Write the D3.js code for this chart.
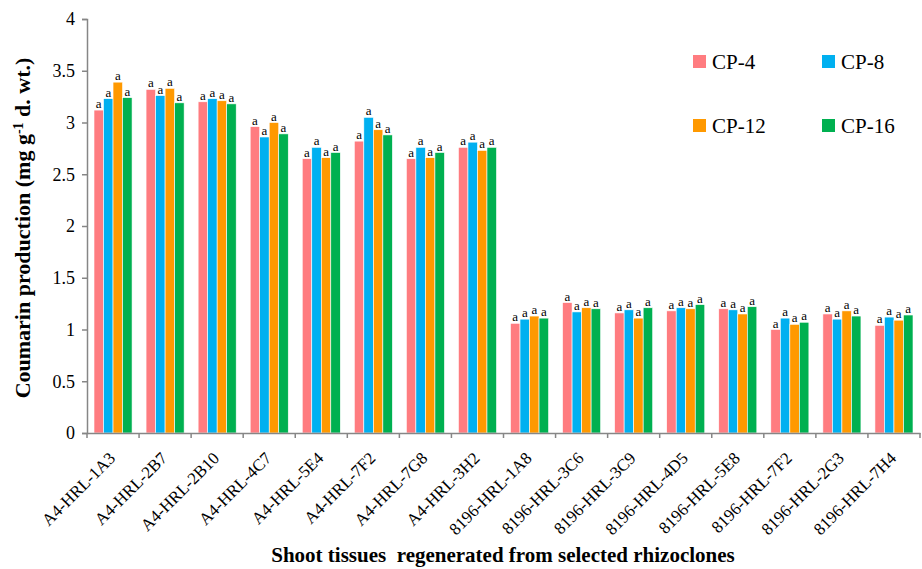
<!DOCTYPE html>
<html>
<head>
<meta charset="utf-8">
<script src="https://cdn.jsdelivr.net/npm/d3@7"></script>
<style>
  body { margin: 0; background: #fff; }
  svg text { font-family: "Liberation Serif", "DejaVu Serif", "Times New Roman", serif; fill: #000; }
</style>
</head>
<body>
<div id="chart"></div>
<script>
// Data
const clones = ["A4-HRL-1A3", "A4-HRL-2B7", "A4-HRL-2B10", "A4-HRL-4C7", "A4-HRL-5E4", "A4-HRL-7F2",
    "A4-HRL-7G8", "A4-HRL-3H2", "8196-HRL-1A8", "8196-HRL-3C6", "8196-HRL-3C9", "8196-HRL-4D5",
    "8196-HRL-5E8", "8196-HRL-7F2", "8196-HRL-2G3", "8196-HRL-7H4"];
const seriesNames = ["CP-4", "CP-8", "CP-12", "CP-16"];
const cp4  = [3.12, 3.32, 3.20, 2.96, 2.65, 2.82, 2.65, 2.76, 1.06, 1.26, 1.16, 1.18, 1.20, 1.00, 1.15, 1.04];
const cp8  = [3.23, 3.26, 3.23, 2.86, 2.76, 3.05, 2.76, 2.81, 1.10, 1.17, 1.19, 1.21, 1.19, 1.11, 1.10, 1.12];
const cp12 = [3.39, 3.33, 3.21, 3.00, 2.66, 2.93, 2.66, 2.73, 1.13, 1.21, 1.11, 1.20, 1.15, 1.05, 1.18, 1.09];
const cp16 = [3.24, 3.19, 3.18, 2.89, 2.71, 2.88, 2.71, 2.76, 1.11, 1.20, 1.21, 1.24, 1.22, 1.07, 1.13, 1.14];
const letters = "a";
const yTicks = [0, 0.5, 1, 1.5, 2, 2.5, 3, 3.5, 4];
const colors = ["#FF7C80", "#00B0F0", "#FF9900", "#00B050"];

const allSeries = [cp4, cp8, cp12, cp16];
const data = clones.map((c, i) => ({
    clone: c,
    values: seriesNames.map((s, j) => ({ key: s, value: allSeries[j][i] }))
}));

const W = 922, H = 569;
const mLeft = 87, mRight = 920, mTop = 19, mBottom = 433;
const serif = '"Liberation Serif", "DejaVu Serif", serif';

const svg = d3.select("#chart").append("svg")
    .attr("width", W).attr("height", H)
    .attr("font-family", serif);

const x0 = d3.scaleBand().domain(clones).range([mLeft, mRight]).padding(0);
const x1 = d3.scaleBand().domain(seriesNames).range([7, x0.bandwidth() - 7]).padding(0);
const y = d3.scaleLinear().domain([0, 4]).range([mBottom, mTop]);
const color = d3.scaleOrdinal().domain(seriesNames).range(colors);

// Bars
const groups = svg.append("g").selectAll("g")
    .data(data)
    .join("g")
    .attr("transform", d => `translate(${x0(d.clone)},0)`);

groups.selectAll("rect")
    .data(d => d.values)
    .join("rect")
    .attr("x", d => x1(d.key))
    .attr("y", d => y(d.value))
    .attr("width", x1.bandwidth())
    .attr("height", d => y(0) - y(d.value))
    .attr("fill", d => color(d.key))
    .attr("stroke", "#fff")
    .attr("stroke-width", 0.6);

// significance letters
groups.selectAll("text.sig")
    .data(d => d.values)
    .join("text")
    .attr("class", "sig")
    .attr("x", d => x1(d.key) + x1.bandwidth() / 2)
    .attr("y", d => y(d.value) - 2)
    .attr("text-anchor", "middle")
    .attr("font-size", "13px")
    .text(letters);

// Y axis
const yAxis = svg.append("g")
    .attr("transform", `translate(${mLeft},0)`)
    .call(d3.axisLeft(y).tickValues(yTicks).tickSize(5).tickPadding(7).tickFormat(d3.format("")));
yAxis.attr("font-family", serif);
yAxis.select(".domain").attr("stroke", "#868686").attr("stroke-width", 1.5);
yAxis.selectAll(".tick line").attr("stroke", "#868686").attr("stroke-width", 1.5);
yAxis.selectAll(".tick text")
    .attr("font-size", "18px")
    .attr("fill", "#000");

// X axis
const xAxis = svg.append("g")
    .attr("transform", `translate(0,${mBottom})`)
    .call(d3.axisBottom(x0).tickSize(0).tickFormat(""));
xAxis.select(".domain").attr("stroke", "#868686").attr("stroke-width", 1.5);

// tick marks between categories
const bounds = clones.map(c => x0(c)).concat([mRight]);
svg.append("g").selectAll("line")
    .data(bounds)
    .join("line")
    .attr("x1", d => d).attr("x2", d => d)
    .attr("y1", mBottom).attr("y2", mBottom + 5)
    .attr("stroke", "#868686")
    .attr("stroke-width", 1.5);

// rotated category labels
svg.append("g").selectAll("text")
    .data(clones)
    .join("text")
    .attr("transform", d => `translate(${x0(d) + x0.bandwidth() / 2 - 1},${mBottom + 22}) rotate(-45)`)
    .attr("text-anchor", "end")
    .attr("dy", "0.35em")
    .attr("font-size", "17px")
    .text(d => d);

// Axis titles
const yTitle = svg.append("text")
    .attr("transform", `translate(30,228) rotate(-90)`)
    .attr("text-anchor", "middle")
    .attr("font-size", "22px")
    .attr("font-weight", "bold");
yTitle.append("tspan").text("Coumarin production (mg g");
yTitle.append("tspan").attr("baseline-shift", "super").attr("font-size", "14px").text("-1");
yTitle.append("tspan").text(" d. wt.)");

svg.append("text")
    .attr("x", 503)
    .attr("y", 562)
    .attr("text-anchor", "middle")
    .attr("font-size", "21px")
    .attr("font-weight", "bold")
    .style("white-space", "pre")
    .text("Shoot tissues  regenerated from selected rhizoclones");

// Legend
const legendPos = [[693, 55], [822, 55], [693, 119], [822, 119]];
const legend = svg.append("g").selectAll("g")
    .data(seriesNames)
    .join("g")
    .attr("transform", (d, i) => `translate(${legendPos[i][0]},${legendPos[i][1]})`);
legend.append("rect")
    .attr("width", 13).attr("height", 13)
    .attr("fill", d => color(d));
legend.append("text")
    .attr("x", 19).attr("y", 14)
    .attr("font-size", "21px")
    .text(d => d);
</script>
</body>
</html>
